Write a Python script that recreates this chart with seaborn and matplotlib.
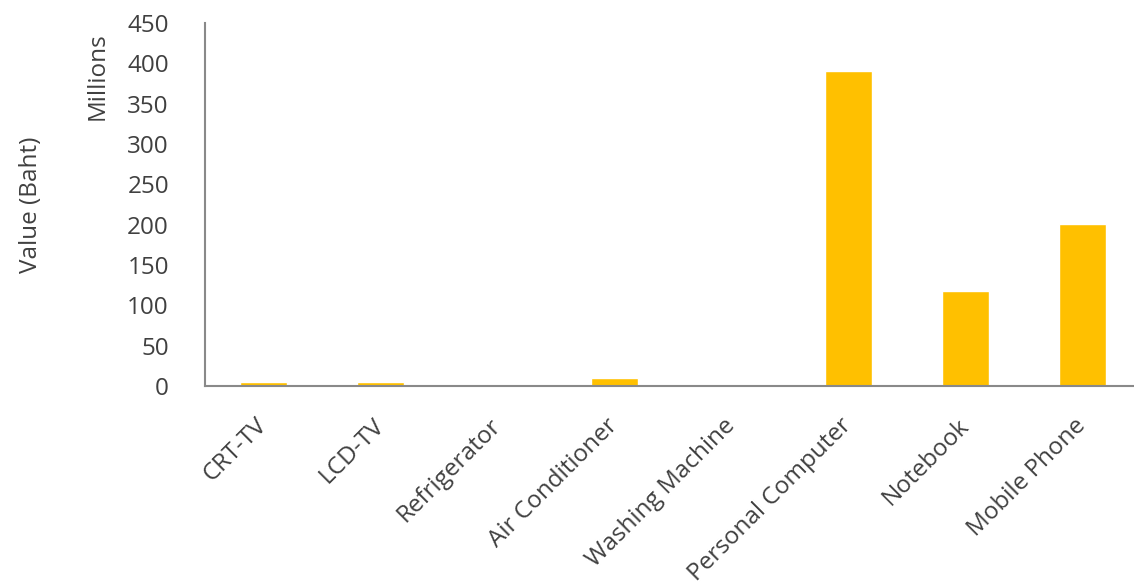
import matplotlib
matplotlib.use("Agg")
import matplotlib.pyplot as plt
import seaborn as sns
import pandas as pd

categories = ["CRT-TV", "LCD-TV", "Refrigerator", "Air Conditioner",
              "Washing Machine", "Personal Computer", "Notebook", "Mobile Phone"]
values_millions = [5, 5, 0, 10, 0, 391, 118, 201]
y_ticks = [0, 50, 100, 150, 200, 250, 300, 350, 400, 450]

df = pd.DataFrame({"category": categories, "value": values_millions})

sns.set_theme(style="white")
plt.rcParams["font.family"] = ["Open Sans", "DejaVu Sans"]

text_color = "#404040"
fs = 17.5
fig = plt.figure(figsize=(11.34, 5.85), dpi=100)
ax = fig.add_axes([0.1808, 0.3402, 0.8254, 0.6205])

sns.barplot(data=df, x="category", y="value", color="#FFC000",
            saturation=1, width=0.40, ax=ax)

ax.set_xlim(-0.5, len(categories) - 0.5)
ax.set_ylim(0, 450)
ax.set_yticks(y_ticks)
ax.set_yticklabels([str(t) for t in y_ticks], fontsize=fs, color=text_color)
ax.set_xticks(range(len(categories)))
ax.set_xticklabels(categories, rotation=45, ha="right", va="center",
                   rotation_mode="anchor", fontsize=fs, color=text_color)
ax.tick_params(axis="both", length=0)
ax.tick_params(axis="y", pad=26)
ax.tick_params(axis="x", pad=26)

ax.set_xlabel("")
ax.set_ylabel("")
for side in ["top", "right"]:
    ax.spines[side].set_visible(False)
for side in ["left", "bottom"]:
    ax.spines[side].set_color("#898989")
    ax.spines[side].set_linewidth(1.5)

fig.text(0.027, 0.65, "Value (Baht)", rotation=90, ha="center", va="center",
         fontsize=fs, color=text_color)
fig.text(0.086, 0.945, "Millions", rotation=90, ha="center", va="top",
         fontsize=fs, color=text_color)

fig.savefig("out.png", dpi=100, facecolor="white")
